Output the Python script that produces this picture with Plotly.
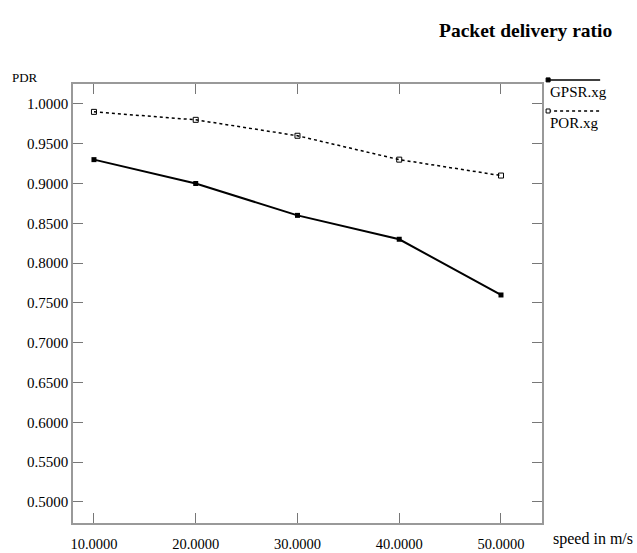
import plotly.graph_objects as go

speed = [10, 20, 30, 40, 50]
gpsr = [0.93, 0.90, 0.86, 0.83, 0.76]
por = [0.99, 0.98, 0.96, 0.93, 0.91]
y_ticks = [0.50, 0.55, 0.60, 0.65, 0.70, 0.75, 0.80, 0.85, 0.90, 0.95, 1.00]
x_ticks = [10, 20, 30, 40, 50]

FONT = "Liberation Serif"

fig = go.Figure()
fig.add_trace(go.Scatter(x=speed, y=gpsr, mode="lines+markers", name="GPSR.xg",
                         line=dict(color="black", width=2),
                         marker=dict(symbol="square", size=5, color="black")))
fig.add_trace(go.Scatter(x=speed, y=por, mode="lines+markers", name="POR.xg",
                         line=dict(color="black", width=1.5, dash="dot"),
                         marker=dict(symbol="square-open", size=5, color="black")))

axis_common = dict(showgrid=False, zeroline=False, showline=True, linecolor="#999999",
                   linewidth=1.5, mirror="allticks", ticks="inside", ticklen=10,
                   tickcolor="#777777", automargin=False)

fig.update_layout(
    width=637, height=553,
    margin=dict(l=73, r=95, t=84, b=30),
    paper_bgcolor="white", plot_bgcolor="white",
    showlegend=False,
    xaxis=dict(range=[7.94, 54.03], tickvals=x_ticks, ticklabelstandoff=7,
               tickfont=dict(family=FONT, size=14.5, color="black"),
               ticktext=[f"{v:.4f}" for v in x_ticks], **axis_common),
    yaxis=dict(range=[0.4736, 1.025], tickvals=y_ticks,
               tickfont=dict(family=FONT, size=15, color="black"),
               ticktext=[f"{v:.4f}" for v in y_ticks], **axis_common),
)

fig.add_annotation(text="<b>Packet delivery ratio</b>", xref="paper", yref="paper",
                   x=1.153, y=1.123, xanchor="right", yanchor="middle", showarrow=False,
                   font=dict(family=FONT, size=19.5, color="black"))
fig.add_annotation(text="PDR", xref="paper", yref="paper", x=-0.135, y=1.0137,
                   xanchor="left", yanchor="middle", showarrow=False,
                   font=dict(family=FONT, size=13, color="black"))
fig.add_annotation(text="speed in m/s", xref="paper", yref="paper", x=1.019, y=-0.036,
                   xanchor="left", yanchor="middle", showarrow=False,
                   font=dict(family=FONT, size=16, color="black"))

# Legend drawn as in the original (marker + line above label)
legend = [("GPSR.xg", "solid", "black", 1.0093), ("POR.xg", "dot", "white", 0.9385)]
for name, dash, fill, yl in legend:
    fig.add_shape(type="line", xref="paper", yref="paper", x0=1.013, x1=1.124, y0=yl, y1=yl,
                  line=dict(color="black", width=1.5, dash=dash))
    fig.add_shape(type="rect", xref="paper", yref="paper", xsizemode="pixel", ysizemode="pixel",
                  xanchor=1.013, yanchor=yl, x0=-2, x1=2, y0=-2, y1=2,
                  fillcolor=fill, line=dict(color="black", width=1))
    fig.add_annotation(text=name, xref="paper", yref="paper", x=1.012, y=yl - 0.005,
                       xanchor="left", yanchor="top", showarrow=False,
                       font=dict(family=FONT, size=15, color="black"))

fig.write_html("out.html")
